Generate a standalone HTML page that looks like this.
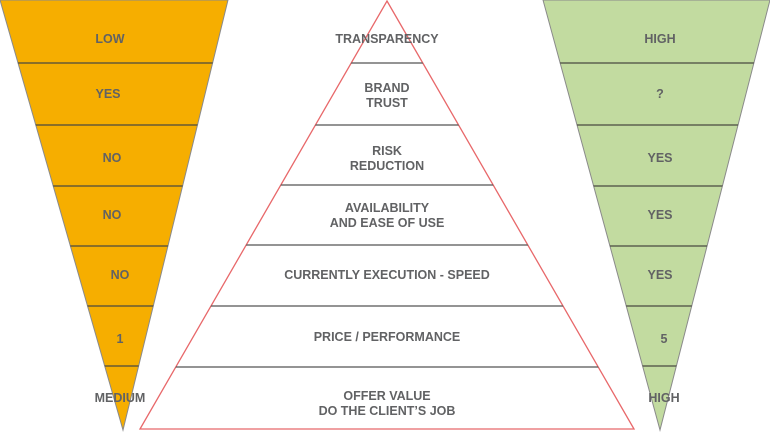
<!DOCTYPE html>
<html><head><style>
html,body{margin:0;padding:0;background:#fff;}
text{font-family:"Liberation Sans",sans-serif;font-size:12.5px;font-weight:bold;fill:#616264;text-anchor:middle;}
</style></head><body>
<svg width="770" height="432" viewBox="0 0 770 432" xmlns="http://www.w3.org/2000/svg">
<defs>
<clipPath id="cl"><polygon points="0,0 228,0 123,430"/></clipPath>
<clipPath id="cm"><polygon points="387,1 634,429 140,429"/></clipPath>
<clipPath id="cr"><polygon points="543,0 770,0 660,430"/></clipPath>
</defs>
<polygon points="0,0 228,0 123,430" fill="#F6AE00" stroke="#8a8a8a" stroke-width="1"/>
<g clip-path="url(#cl)" stroke="#4a4a40" stroke-width="1.3">
<line x1="0" y1="63" x2="240" y2="63"/><line x1="0" y1="125" x2="240" y2="125"/>
<line x1="0" y1="186" x2="240" y2="186"/><line x1="0" y1="246" x2="240" y2="246"/>
<line x1="0" y1="306" x2="240" y2="306"/><line x1="0" y1="366" x2="240" y2="366"/>
</g>
<polygon points="543,0 770,0 660,430" fill="#C2DBA0" stroke="#8a8a8a" stroke-width="1"/>
<g clip-path="url(#cr)" stroke="#4a4a40" stroke-width="1.3">
<line x1="530" y1="63" x2="770" y2="63"/><line x1="530" y1="125" x2="770" y2="125"/>
<line x1="530" y1="186" x2="770" y2="186"/><line x1="530" y1="246" x2="770" y2="246"/>
<line x1="530" y1="306" x2="770" y2="306"/><line x1="530" y1="366" x2="770" y2="366"/>
</g>
<polygon points="387,1 634,429 140,429" fill="#fff" stroke="#E8686A" stroke-width="1.3"/>
<g clip-path="url(#cm)" stroke="#555" stroke-width="1.3">
<line x1="130" y1="63" x2="640" y2="63"/><line x1="130" y1="125" x2="640" y2="125"/>
<line x1="130" y1="185" x2="640" y2="185"/><line x1="130" y1="245" x2="640" y2="245"/>
<line x1="130" y1="306" x2="640" y2="306"/><line x1="130" y1="367" x2="640" y2="367"/>
</g>
<text x="110" y="43">LOW</text>
<text x="108" y="98">YES</text>
<text x="112" y="162">NO</text>
<text x="112" y="219">NO</text>
<text x="120" y="279">NO</text>
<text x="120" y="343">1</text>
<text x="120" y="402">MEDIUM</text>
<text x="387" y="43">TRANSPARENCY</text>
<text x="387" y="92">BRAND</text><text x="387" y="107">TRUST</text>
<text x="387" y="155">RISK</text><text x="387" y="170">REDUCTION</text>
<text x="387" y="212">AVAILABILITY</text><text x="387" y="227">AND EASE OF USE</text>
<text x="387" y="279">CURRENTLY EXECUTION - SPEED</text>
<text x="387" y="341">PRICE / PERFORMANCE</text>
<text x="387" y="400">OFFER VALUE</text><text x="387" y="415">DO THE CLIENT’S JOB</text>
<text x="660" y="43">HIGH</text>
<text x="660" y="98">?</text>
<text x="660" y="162">YES</text>
<text x="660" y="219">YES</text>
<text x="660" y="279">YES</text>
<text x="664" y="343">5</text>
<text x="664" y="402">HIGH</text>
</svg>
</body></html>
